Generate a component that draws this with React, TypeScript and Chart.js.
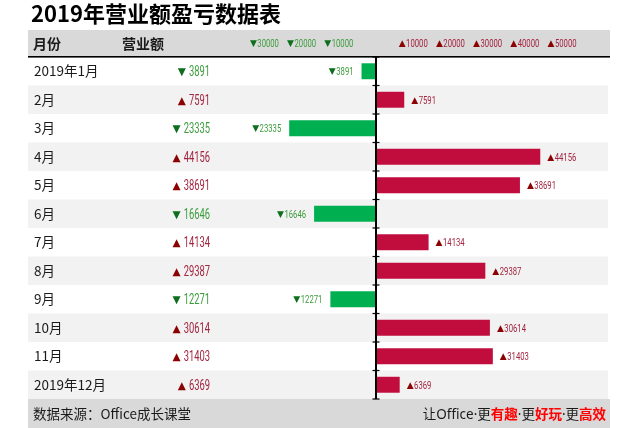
import React, { useEffect, useRef } from "react";
import { Chart, registerables } from "chart.js";

Chart.register(...registerables);

const TITLE = "2019年营业额盈亏数据表";
const HEADERS = ["月份", "营业额"];
const MONTHS = [
  "2019年1月", "2月", "3月", "4月", "5月", "6月",
  "7月", "8月", "9月", "10月", "11月", "2019年12月",
];
const VALUES = [-3891, 7591, -23335, 44156, 38691, -16646, 14134, 29387, -12271, 30614, 31403, 6369];
const AXIS_TICKS = [-30000, -20000, -10000, 10000, 20000, 30000, 40000, 50000];
const SOURCE = "数据来源：Office成长课堂";
const SLOGAN_TEXT = ["让Office·更", "有趣", "·更", "好玩", "·更", "高效"];
const SLOGAN_HIGHLIGHT = [false, true, false, true, false, true];

const CJK = '"Noto Sans CJK SC", "Microsoft YaHei", sans-serif';
const MIXED = '"Noto Sans", "Noto Sans CJK SC", "Microsoft YaHei", sans-serif';
const NUM = 'Roboto, "DejaVu Sans", sans-serif';
const TRI = '"DejaVu Sans", sans-serif';

const RED_BAR = "#c00d3e";
const GREEN_BAR = "#00b050";
const RED_TRI = "#8b0000";
const RED_NUM = "#a3243f";
const GREEN_TRI = "#0d6e1d";
const GREEN_NUM = "#3c9c3c";
const BAND = "#d9d9d9";
const STRIPE = "#f2f2f2";
const TEXT = "#1a1a1a";

const LEFT = 28;
const RIGHT = 610;

function drawSigned(
  ctx: CanvasRenderingContext2D,
  v: number,
  x: number,
  cy: number,
  align: "left" | "right" | "center",
  triPx: number,
  numPx: number,
  sx: number,
  gap: number
) {
  const neg = v < 0;
  const tri = neg ? "▼" : "▲";
  const num = String(Math.abs(v));
  ctx.save();
  ctx.font = `${triPx}px ${TRI}`;
  const tw = ctx.measureText(tri).width;
  ctx.font = `${numPx}px ${NUM}`;
  const nw = ctx.measureText(num).width * sx;
  const total = tw + gap + nw;
  const left = align === "left" ? x : align === "right" ? x - total : x - total / 2;
  ctx.textAlign = "left";
  ctx.textBaseline = "alphabetic";
  ctx.font = `${triPx}px ${TRI}`;
  ctx.fillStyle = neg ? GREEN_TRI : RED_TRI;
  ctx.fillText(tri, left, cy + triPx * 0.36);
  ctx.font = `${numPx}px ${NUM}`;
  ctx.fillStyle = neg ? GREEN_NUM : RED_NUM;
  ctx.translate(left + tw + gap, cy + numPx * 0.355);
  ctx.scale(sx, 1);
  ctx.fillText(num, 0, 0);
  ctx.restore();
}

const tablePlugin = {
  id: "tablePlugin",
  beforeDraw(chart: any) {
    const ctx: CanvasRenderingContext2D = chart.ctx;
    const area = chart.chartArea;
    const xs = chart.scales.x;
    const n = MONTHS.length;
    const rowH = (area.bottom - area.top) / n;
    ctx.save();
    ctx.fillStyle = "#ffffff";
    ctx.fillRect(0, 0, chart.width, chart.height);

    // title
    ctx.fillStyle = "#000000";
    ctx.font = `bold 22px ${CJK}`;
    ctx.textAlign = "left";
    ctx.textBaseline = "alphabetic";
    ctx.fillText(TITLE, 31, 22);

    // header band
    ctx.fillStyle = BAND;
    ctx.fillRect(LEFT, 30, RIGHT - LEFT, area.top - 30);
    ctx.fillStyle = TEXT;
    ctx.font = `bold 14px ${CJK}`;
    ctx.fillText(HEADERS[0], 33, 43.5 + 5.3);
    ctx.fillText(HEADERS[1], 122, 43.5 + 5.3);

    // axis tick labels in header
    AXIS_TICKS.forEach((t) => {
      drawSigned(ctx, t, xs.getPixelForValue(t), 43, "center", 9, 11, 0.7, 0.5);
    });

    // stripes, months, values
    for (let i = 0; i < n; i++) {
      const top = area.top + i * rowH;
      if (i % 2 === 1) {
        ctx.fillStyle = STRIPE;
        ctx.fillRect(LEFT, top, 608 - LEFT, rowH);
      }
      const cy = top + rowH / 2;
      ctx.fillStyle = TEXT;
      ctx.font = `13.5px ${CJK}`;
      ctx.textAlign = "left";
      ctx.textBaseline = "alphabetic";
      ctx.fillText(MONTHS[i], 34, cy + 5);
      drawSigned(ctx, VALUES[i], 210, cy, "right", 10.5, 14, 0.67, 3);
    }

    // footer band
    ctx.fillStyle = BAND;
    ctx.fillRect(LEFT, area.bottom, RIGHT - LEFT, chart.height - area.bottom);
    const fy = area.bottom + (chart.height - area.bottom) / 2;
    ctx.fillStyle = TEXT;
    ctx.font = `13.5px ${CJK}`;
    ctx.textAlign = "left";
    ctx.fillText(SOURCE, 33, fy + 5);

    // slogan right aligned
    const fonts = SLOGAN_HIGHLIGHT.map((h) => (h ? `bold 13.5px ${MIXED}` : `13.5px ${MIXED}`));
    const widths = SLOGAN_TEXT.map((s, k) => {
      ctx.font = fonts[k];
      return ctx.measureText(s).width;
    });
    let sxp = 606 - widths.reduce((a, b) => a + b, 0);
    SLOGAN_TEXT.forEach((s, k) => {
      ctx.font = fonts[k];
      ctx.fillStyle = SLOGAN_HIGHLIGHT[k] ? "#ff0000" : TEXT;
      ctx.fillText(s, sxp, fy + 5);
      sxp += widths[k];
    });

    // header underline
    ctx.fillStyle = "#000000";
    ctx.fillRect(LEFT, area.top - 1, RIGHT - LEFT, 1.6);
    ctx.restore();
  },
  afterDatasetsDraw(chart: any) {
    const ctx: CanvasRenderingContext2D = chart.ctx;
    const area = chart.chartArea;
    const xs = chart.scales.x;
    const ys = chart.scales.y;
    const n = MONTHS.length;
    const rowH = (area.bottom - area.top) / n;
    const x0 = Math.round(xs.getPixelForValue(0));
    ctx.save();
    // axis line
    ctx.fillStyle = "#000000";
    ctx.fillRect(x0 - 1, area.top, 2, area.bottom - area.top);
    for (let k = 0; k <= n; k++) {
      const y = area.top + k * rowH;
      ctx.fillRect(x0 - 3.5, y - 0.6, 7, 1.2);
    }
    // data labels
    VALUES.forEach((v, i) => {
      const cy = ys.getPixelForValue(i);
      const xe = xs.getPixelForValue(v);
      if (v >= 0) drawSigned(ctx, v, xe + 7, cy, "left", 9, 11, 0.7, 0.5);
      else drawSigned(ctx, v, xe - 8, cy, "right", 9, 11, 0.7, 0.5);
    });
    ctx.restore();
  },
};

export default function App() {
  const ref = useRef<HTMLCanvasElement | null>(null);
  useEffect(() => {
    if (!ref.current) return;
    const chart = new Chart(ref.current, {
      type: "bar",
      data: {
        labels: MONTHS,
        datasets: [
          {
            data: VALUES,
            backgroundColor: VALUES.map((v) => (v >= 0 ? RED_BAR : GREEN_BAR)),
            borderWidth: 0,
            barPercentage: 0.56,
            categoryPercentage: 1,
          },
        ],
      },
      options: {
        indexAxis: "y",
        responsive: false,
        devicePixelRatio: 1,
        animation: false,
        events: [],
        layout: { padding: { left: 230, right: 31, top: 57, bottom: 29 } },
        plugins: {
          legend: { display: false },
          tooltip: { enabled: false },
          title: { display: false },
        },
        scales: {
          x: { type: "linear", min: -39250, max: 62900, display: false },
          y: { type: "category", display: false },
        },
      },
      plugins: [tablePlugin],
    } as any);
    return () => chart.destroy();
  }, []);
  return (
    <div style={{ position: "absolute", left: 0, top: 0, width: 641, height: 428, background: "#fff" }}>
      <canvas ref={ref} width={641} height={428} style={{ display: "block", width: 641, height: 428 }} />
    </div>
  );
}
